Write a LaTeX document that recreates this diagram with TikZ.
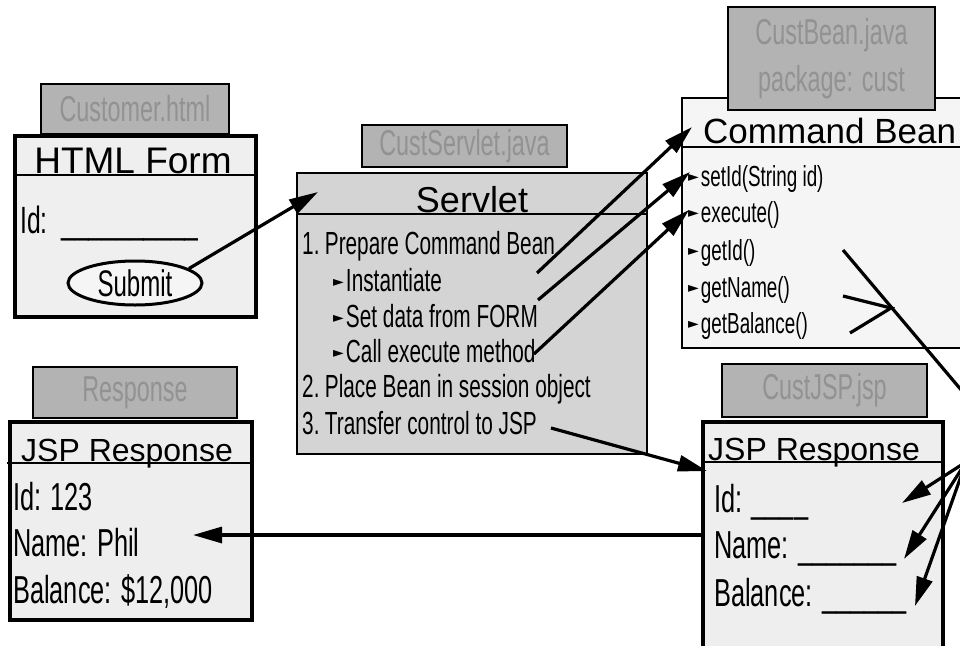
\documentclass[tikz,border=0pt]{standalone}
\usepackage{fontspec}
\setmainfont{Liberation Sans}
\newfontfamily\cnd[FakeStretch=0.65]{Liberation Sans}
\newfontfamily\symf{DejaVu Sans}
\usetikzlibrary{arrows.meta,shapes.geometric}
\newcommand\setfs[1]{\fontsize{#1}{#1}\selectfont}
\newcommand\bul{\raisebox{5pt}{\symf\setfs{14}►}\hspace{2pt}}
\definecolor{lblfill}{HTML}{B3B3B3}
\definecolor{lbltext}{HTML}{929292}
\definecolor{formfill}{HTML}{EFEFEF}
\definecolor{servfill}{HTML}{D4D4D4}
\definecolor{beanfill}{HTML}{F5F5F5}
\definecolor{jspfill}{HTML}{EEEEEE}
\begin{document}
\begin{tikzpicture}[x=1pt,y=-1pt,
  box/.style={draw=black, anchor=north west, inner sep=0pt, outer sep=0pt},
  lbl/.style={box, line width=2.5pt, fill=lblfill, text=lbltext, font=\cnd\setfs{36}, align=center},
  ttl/.style={inner sep=0pt, anchor=base west, font=\setfs{35}},
  txt/.style={inner sep=0pt, anchor=base west, font=\cnd\setfs{32}},
  arr/.style={line width=3.2pt, -{Triangle[length=29pt,width=16pt]}},
  ln/.style={line width=3.2pt},
  hdr/.style={line width=2pt}]
\useasboundingbox (0,0) rectangle (960,645);
\clip (0,0) rectangle (960,645);
\fill[white] (0,0) rectangle (960,645);

% ---------- HTML form ----------
\node[box, line width=4pt, fill=formfill, minimum width=241pt, minimum height=181pt] (form) at (15,136) {};
\draw[hdr] (form.north west |- 0,175) -- (form.north east |- 0,175);
\node[ttl, anchor=base, font=\setfs{37}] (formt) at (133,173) {HTML Form};
\node[txt, font=\cnd\setfs{38}] (formid) at (20,233) {Id:\ \ \_\_\_\_\_\_\_\_\_\_};
\node[ellipse, draw, line width=3pt, fill=beanfill, minimum width=134pt, minimum height=44pt, inner sep=0pt, font=\cnd\setfs{37}] (submit) at (135,283) {Submit};
\node[lbl, minimum width=188pt, minimum height=50pt] (custhtml) at (41,84) {Customer.html};

% ---------- Servlet ----------
\node[box, line width=2pt, fill=servfill, minimum width=350pt, minimum height=281pt] (serv) at (297,173) {};
\draw[hdr] (serv.north west |- 0,214) -- (serv.north east |- 0,214);
\node[ttl, anchor=base, font=\setfs{36}] (servt) at (472,212) {Servlet};
\node[txt] (s1) at (302,254) {1.\,Prepare Command Bean};
\node[txt] (s2) at (333,291) {\bul Instantiate};
\node[txt] (s3) at (333,327) {\bul Set data from FORM};
\node[txt] (s4) at (333,362) {\bul Call execute method};
\node[txt] (s5) at (302,397) {2.\,Place Bean in session object};
\node[txt] (s6) at (302,434) {3.\,Transfer control to JSP};
\node[lbl, minimum width=205pt, minimum height=42pt] (custserv) at (362,125) {CustServlet.java};

% ---------- Command Bean ----------
\node[box, line width=2pt, fill=beanfill, minimum width=300pt, minimum height=250pt] (bean) at (682,98) {};
\draw[hdr] (bean.north west |- 0,147) -- (bean.north east |- 0,147);
\node[ttl] (beant) at (703,143) {Command Bean};
\node[txt, font=\cnd\setfs{29}] (m1) at (688,186) {\bul setId(String id)};
\node[txt, font=\cnd\setfs{29}] (m2) at (688,222) {\bul execute()};
\node[txt, font=\cnd\setfs{29}] (m3) at (688,260) {\bul getId()};
\node[txt, font=\cnd\setfs{29}] (m4) at (688,297) {\bul getName()};
\node[txt, font=\cnd\setfs{29}] (m5) at (688,333) {\bul getBalance()};
\node[lbl, minimum width=207pt, minimum height=103pt, font=\cnd\fontsize{36}{47}\selectfont] (custbean) at (728,7) {CustBean.java\\package: cust};

% ---------- JSP (right) ----------
\node[box, line width=4pt, fill=jspfill, minimum width=240pt, minimum height=240pt] (jspr) at (703,422) {};
\draw[hdr] (jspr.north west |- 0,462) -- (jspr.north east |- 0,462);
\node[ttl, font=\setfs{32}] (jsprt) at (708,460) {JSP Response};
\node[txt, font=\cnd\setfs{39}] (r1) at (714,512) {Id: \_\_\_\_};
\node[txt, font=\cnd\setfs{39}] (r2) at (714,558) {Name: \_\_\_\_\_\_\_};
\node[txt, font=\cnd\setfs{39}] (r3) at (714,606) {Balance: \_\_\_\_\_\_};
\node[lbl, minimum width=205pt, minimum height=53pt] (custjsp) at (722,364) {CustJSP.jsp};

% ---------- JSP (left) ----------
\node[box, line width=4pt, fill=jspfill, minimum width=242pt, minimum height=198pt] (jspl) at (10,422) {};
\draw[hdr] (7,463) -- (jspl.north east |- 0,463);
\node[ttl, font=\setfs{32}] (jsplt) at (21,461) {JSP Response};
\node[txt, font=\cnd\setfs{39}] (l1) at (13,510) {Id: 123};
\node[txt, font=\cnd\setfs{39}] (l2) at (13,556) {Name: Phil};
\node[txt, font=\cnd\setfs{39}] (l3) at (13,603) {Balance: \$12,000};
\node[lbl, minimum width=204pt, minimum height=51pt] (resp) at (33,367) {Response};

% ---------- connector points ----------
\coordinate (servin) at (318,192);
\coordinate (c2s) at (537,273);
\coordinate (c2e) at (692,127);
\coordinate (c3s) at (538,300);
\coordinate (c3e) at (690,172);
\coordinate (c4s) at (534,354);
\coordinate (c4e) at (689,210);
\coordinate (c5s) at (551,428);
\coordinate (c5e) at (707,471);
\coordinate (c6s) at (703,535);
\coordinate (c6e) at (193,535);
\coordinate (gid) at (843,250);
\coordinate (offr) at (995,430);
\coordinate (hub) at (966,462);
\coordinate (jn) at (891,308);
\coordinate (gname) at (843,296);
\coordinate (gbal) at (850,333);
\coordinate (tid) at (902,503);
\coordinate (tname) at (904,559);
\coordinate (tbal) at (915,606);

% ---------- connectors ----------
\draw[arr] (submit.15) -- (servin);
\draw[arr] (c2s) -- (c2e);
\draw[arr] (c3s) -- (c3e);
\draw[arr] (c4s) -- (c4e);
\draw[arr] (c5s) -- (c5e);
\draw[arr] (c6s) -- (c6e);
\draw[ln] (gid) -- (offr) -- (hub);
\draw[ln] (gname) -- (jn) -- (gbal);
\draw[arr] (hub) -- (tid);
\draw[arr] (hub) -- (tname);
\draw[arr] (hub) -- (tbal);
\end{tikzpicture}
\end{document}
